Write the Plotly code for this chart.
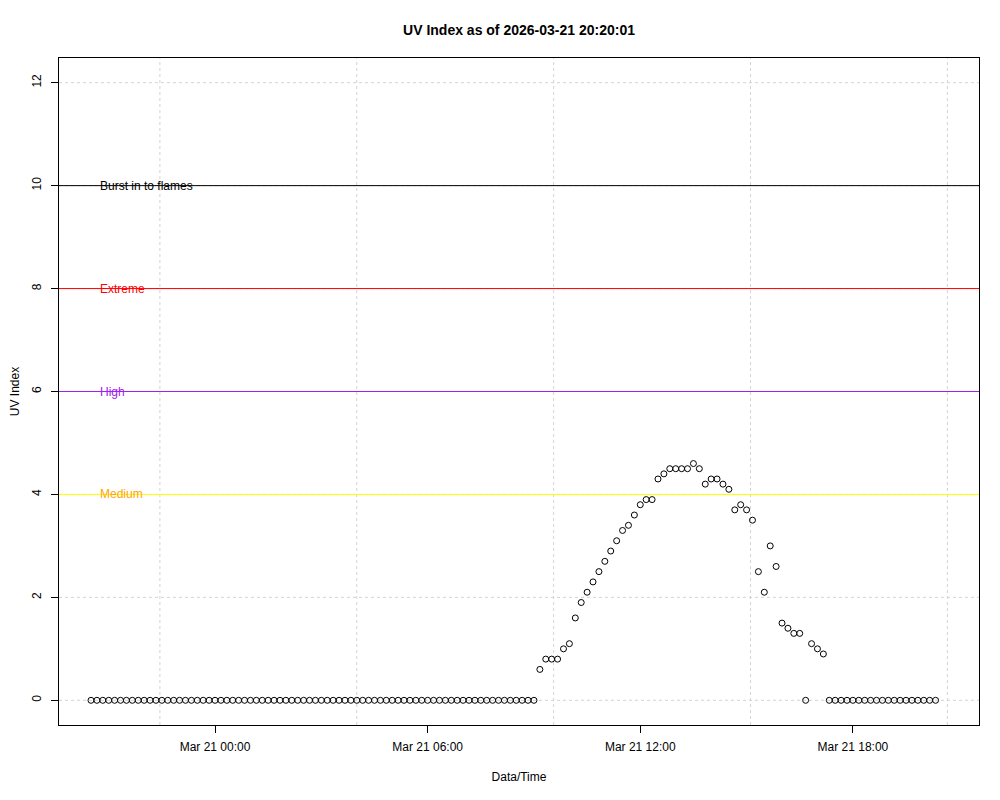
import pandas as pd
import plotly.graph_objects as go

# ---- data ----
start_time = "2026-03-20 20:30:00"
n_points = 144
uv_morning_zeros = [0.0] * 76
uv_day = [0.6, 0.8, 0.8, 0.8, 1.0, 1.1, 1.6, 1.9, 2.1, 2.3,
          2.5, 2.7, 2.9, 3.1, 3.3, 3.4, 3.6, 3.8, 3.9, 3.9,
          4.3, 4.4, 4.5, 4.5, 4.5, 4.5, 4.6, 4.5, 4.2, 4.3,
          4.3, 4.2, 4.1, 3.7, 3.8, 3.7, 3.5, 2.5, 2.1, 3.0,
          2.6, 1.5, 1.4, 1.3, 1.3, 0.0, 1.1, 1.0, 0.9]
uv_evening_zeros = [0.0] * 19
uv_values = uv_morning_zeros + uv_day + uv_evening_zeros

times = pd.date_range(start_time, periods=n_points, freq="10min")

x_axis_range = ["2026-03-20 19:35:50", "2026-03-21 21:33:30"]
x_tick_vals = ["2026-03-21 00:00", "2026-03-21 06:00", "2026-03-21 12:00", "2026-03-21 18:00"]
x_tick_text = ["Mar 21 00:00", "Mar 21 06:00", "Mar 21 12:00", "Mar 21 18:00"]
x_grid_times = ["2026-03-20 22:26:40", "2026-03-21 04:00:00", "2026-03-21 09:33:20",
                "2026-03-21 15:06:40", "2026-03-21 20:40:00"]
y_ticks = [0, 2, 4, 6, 8, 10, 12]

level_values = [10, 8, 6, 4]
level_labels = ["Burst in to flames", "Extreme", "High", "Medium"]
level_line_colors = ["#000000", "#FF0000", "#A020F0", "#FFFF00"]
level_text_colors = ["#000000", "#FF0000", "#A020F0", "#FFA500"]

title = "UV Index as of 2026-03-21 20:20:01"

# ---- figure ----
fig = go.Figure()

grid_line = dict(color="#D3D3D3", width=1, dash="dot")
shapes = []
for gt in x_grid_times:
    shapes.append(dict(type="line", xref="x", yref="paper", x0=gt, x1=gt, y0=0, y1=1,
                       line=grid_line, layer="below"))
for yv in y_ticks:
    shapes.append(dict(type="line", xref="paper", yref="y", x0=0, x1=1, y0=yv, y1=yv,
                       line=grid_line, layer="below"))
for yv, col in zip(level_values, level_line_colors):
    shapes.append(dict(type="line", xref="paper", yref="y", x0=0, x1=1, y0=yv, y1=yv,
                       line=dict(color=col, width=1), layer="below"))

fig.add_trace(go.Scatter(
    x=times, y=uv_values, mode="markers",
    marker=dict(symbol="circle-open", size=6, color="black", line=dict(width=1, color="black")),
    showlegend=False, hoverinfo="x+y",
))

annotations = []
for yv, lab, col in zip(level_values, level_labels, level_text_colors):
    annotations.append(dict(x=times[0], y=yv, xref="x", yref="y", text=lab, showarrow=False,
                            xanchor="left", yanchor="middle", xshift=7,
                            font=dict(color=col, size=12, family="Liberation Sans, Arial, sans-serif")))

fig.update_layout(
    width=1000, height=800,
    paper_bgcolor="white", plot_bgcolor="white",
    margin=dict(l=51, r=29, t=50, b=83, autoexpand=False),
    font=dict(family="Liberation Sans, Arial, sans-serif", size=12, color="black"),
    title=dict(text="<b>" + title + "</b>", x=0.5, xanchor="center", xref="paper",
               y=1 - 22 / 800, yref="container", yanchor="middle",
               font=dict(size=14, color="black")),
    shapes=shapes,
    annotations=annotations,
    xaxis=dict(
        type="date", range=x_axis_range, tickmode="array", tickvals=x_tick_vals, ticktext=x_tick_text,
        automargin=False,
        showgrid=False, zeroline=False, showline=True, linecolor="black", linewidth=1, mirror=True,
        ticks="outside", ticklen=7, tickcolor="black", tickwidth=1, ticklabelstandoff=4,
        title=dict(text="Data/Time", standoff=19, font=dict(size=12)),
    ),
    yaxis=dict(
        range=[-0.48, 12.48], tickmode="array", tickvals=y_ticks, ticktext=[str(v) for v in y_ticks],
        tickangle=-90, automargin=False,
        showgrid=False, zeroline=False,
        showline=True, linecolor="black", linewidth=1, mirror=True,
        ticks="outside", ticklen=7, tickcolor="black", tickwidth=1, ticklabelstandoff=5,
        title=dict(text="UV Index", standoff=20, font=dict(size=12)),
    ),
)

fig.write_html("out.html")
